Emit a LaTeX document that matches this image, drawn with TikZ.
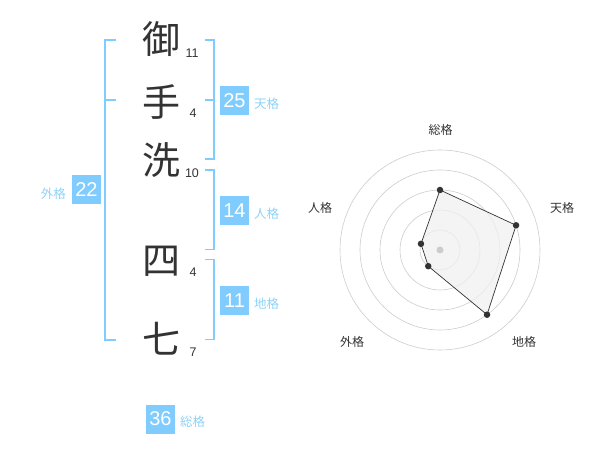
\documentclass[tikz,border=0pt]{standalone}
\usepackage{fontspec}
\setmainfont{Liberation Sans}
\newfontfamily\jp{Noto Sans CJK JP}
\definecolor{bl}{HTML}{80CCFF}
\definecolor{lbl}{HTML}{8ED2F8}
\definecolor{dk}{HTML}{333333}
\definecolor{ring}{HTML}{CCCCCC}
\definecolor{area}{HTML}{F0F0F0}
\begin{document}
\begin{tikzpicture}[x=1pt,y=-1pt,
  kanji/.style={font=\jp\fontsize{38}{38}\selectfont, text=dk, inner sep=0pt},
  strokes/.style={font=\fontsize{12.5}{12.5}\selectfont, text=dk, inner sep=0pt},
  numbox/.style={fill=bl, text=white, minimum width=29pt, minimum height=29pt, inner sep=0pt, font=\fontsize{20}{20}\selectfont},
  lab/.style={text=lbl, font=\jp\fontsize{12.5}{12.5}\selectfont, inner sep=0pt},
  bracket/.style={draw=bl, line width=1.6pt},
  rlab/.style={text=dk, font=\jp\fontsize{12}{12}\selectfont, inner sep=0pt},
  dot/.style={circle, fill=dk, inner sep=0pt, minimum size=6.5pt}]
\useasboundingbox (0,0) rectangle (600,470);
% kanji
\node[kanji] (k1) at (161,39) {御};
\node[kanji] (k2) at (161,102) {手};
\node[kanji] (k3) at (161,160) {洗};
\node[kanji] (k4) at (161,261) {四};
\node[kanji] (k5) at (161,339) {七};
\node[strokes] (s1) at (192,53) {11};
\node[strokes] (s2) at (193,113) {4};
\node[strokes] (s3) at (192,173) {10};
\node[strokes] (s4) at (193,272.5) {4};
\node[strokes] (s5) at (193,352.5) {7};
% brackets
\draw[bracket] (116,40) -- (105,40) -- (105,340) -- (116,340);
\draw[bracket] (105,100) -- (116,100);
\draw[bracket] (205,40) -- (214,40) -- (214,159) -- (205,159);
\draw[bracket] (205,100) -- (214,100);
\draw[bracket] (205,170) -- (214,170) -- (214,249.5) -- (205,249.5);
\draw[bracket] (205,259.5) -- (214,259.5) -- (214,339.5) -- (205,339.5);
% boxes
\node[numbox] (b1) at (234.5,100.5) {25};
\node[lab, anchor=west] (l1) at (254,104) {天格};
\node[numbox] (b2) at (234.5,210.5) {14};
\node[lab, anchor=west] (l2) at (254,214) {人格};
\node[numbox] (b3) at (234.5,300.5) {11};
\node[lab, anchor=west] (l3) at (254,304) {地格};
\node[numbox] (b4) at (86.5,190) {22};
\node[lab, anchor=east] (l4) at (66,193.5) {外格};
\node[numbox] (b5) at (160.5,419) {36};
\node[lab, anchor=west] (l5) at (180,422) {総格};
% radar
\coordinate (c) at (440,250);
\foreach \r in {20,40,60,80,100} \draw[ring, line width=0.6pt] (c) circle (\r pt);
\coordinate (p1) at (440,190);
\coordinate (p2) at (516.08,225.28);
\coordinate (p3) at (487.02,314.72);
\coordinate (p4) at (428.24,266.18);
\coordinate (p5) at (420.98,243.82);
\filldraw[fill=area, fill opacity=0.75, draw=dk, line width=0.7pt] (p1) -- (p2) -- (p3) -- (p4) -- (p5) -- cycle;
\fill[ring] (c) circle (3.5pt);
\foreach \p in {p1,p2,p3,p4,p5} \node[dot] at (\p) {};
\node[rlab] (r1) at (440.5,130) {総格};
\node[rlab] (r2) at (562,208) {天格};
\node[rlab] (r3) at (524,342) {地格};
\node[rlab] (r4) at (352,342) {外格};
\node[rlab] (r5) at (320,208) {人格};
\end{tikzpicture}
\end{document}
